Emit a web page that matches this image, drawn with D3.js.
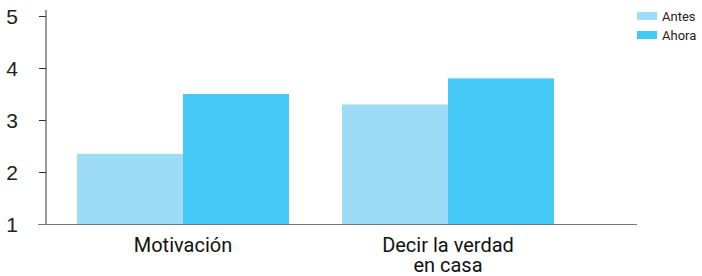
<!DOCTYPE html>
<html>
<head>
<meta charset="utf-8">
<script src="https://cdn.jsdelivr.net/npm/d3@7"></script>
<style>
  body { margin: 0; background: #fff; }
  svg { display: block; }
  .tick-label { font-family: "Liberation Sans", Arial, sans-serif; font-size: 21px; fill: #222; }
  .cat-label { font-family: Roboto, sans-serif; font-size: 20px; fill: #111; }
  .legend-label { font-family: Roboto, sans-serif; font-size: 13px; fill: #222; }
</style>
</head>
<body>
<svg id="chart" width="702" height="276"></svg>
<script>
// data
var categories = [['Motivación'], ['Decir la verdad', 'en casa']];
var seriesNames = ['Antes', 'Ahora'];
var antes = [2.35, 3.3];
var ahora = [3.5, 3.8];
var yTicks = [1, 2, 3, 4, 5];
var colors = ['#9ddbf6', '#45c9f6'];

var svg = d3.select('#chart');

var y = d3.scaleLinear().domain([1, 5]).range([224, 16]);

var x0 = d3.scaleBand()
  .domain(d3.range(categories.length))
  .range([46, 585])
  .paddingInner(0.2)
  .paddingOuter(0.117);

var x1 = d3.scaleBand()
  .domain(seriesNames)
  .range([0, x0.bandwidth()]);

var values = [antes, ahora];

// bars
var groups = svg.append('g')
  .selectAll('g')
  .data(categories)
  .enter()
  .append('g')
  .attr('transform', function(d, i) { return 'translate(' + x0(i) + ',0)'; });

groups.selectAll('rect')
  .data(function(d, i) {
    return seriesNames.map(function(s, j) { return { s: s, j: j, v: values[j][i] }; });
  })
  .enter()
  .append('rect')
  .attr('x', function(d) { return x1(d.s); })
  .attr('width', x1.bandwidth())
  .attr('y', function(d) { return y(d.v); })
  .attr('height', function(d) { return y(1) - y(d.v); })
  .attr('fill', function(d) { return colors[d.j]; });

// y axis
var yAxis = svg.append('g');
yAxis.append('line')
  .attr('x1', 46).attr('x2', 46)
  .attr('y1', 10).attr('y2', y(1))
  .attr('stroke', '#333').attr('stroke-width', 1);

yAxis.selectAll('.tk')
  .data(yTicks)
  .enter()
  .append('line')
  .attr('x1', 39).attr('x2', 46)
  .attr('y1', function(d) { return y(d) + 0.5; })
  .attr('y2', function(d) { return y(d) + 0.5; })
  .attr('stroke', '#333');

yAxis.selectAll('text')
  .data(yTicks)
  .enter()
  .append('text')
  .attr('class', 'tick-label')
  .attr('x', 18)
  .attr('y', function(d) { return y(d); })
  .attr('dy', '0.36em')
  .attr('text-anchor', 'end')
  .text(function(d) { return d; });

// x axis baseline
svg.append('line')
  .attr('x1', 38).attr('x2', 637)
  .attr('y1', y(1) + 0.5).attr('y2', y(1) + 0.5)
  .attr('stroke', '#777').attr('stroke-width', 1.2);

// category labels
svg.append('g')
  .selectAll('text')
  .data(categories)
  .enter()
  .append('text')
  .attr('class', 'cat-label')
  .attr('text-anchor', 'middle')
  .attr('x', function(d, i) { return x0(i) + x0.bandwidth() / 2; })
  .attr('y', 252)
  .each(function(d) {
    var t = d3.select(this);
    d.forEach(function(line, k) {
      t.append('tspan')
        .attr('x', t.attr('x'))
        .attr('dy', k === 0 ? 0 : 20)
        .text(line);
    });
  });

// legend
var legend = svg.append('g')
  .selectAll('g')
  .data(seriesNames)
  .enter()
  .append('g')
  .attr('transform', function(d, i) { return 'translate(637,' + (12 + i * 19) + ')'; });

legend.append('rect')
  .attr('width', 20).attr('height', 8)
  .attr('fill', function(d, i) { return colors[i]; });

legend.append('text')
  .attr('class', 'legend-label')
  .attr('x', 25)
  .attr('y', 4)
  .attr('dy', '0.36em')
  .text(function(d) { return d; });
</script>
</body>
</html>
